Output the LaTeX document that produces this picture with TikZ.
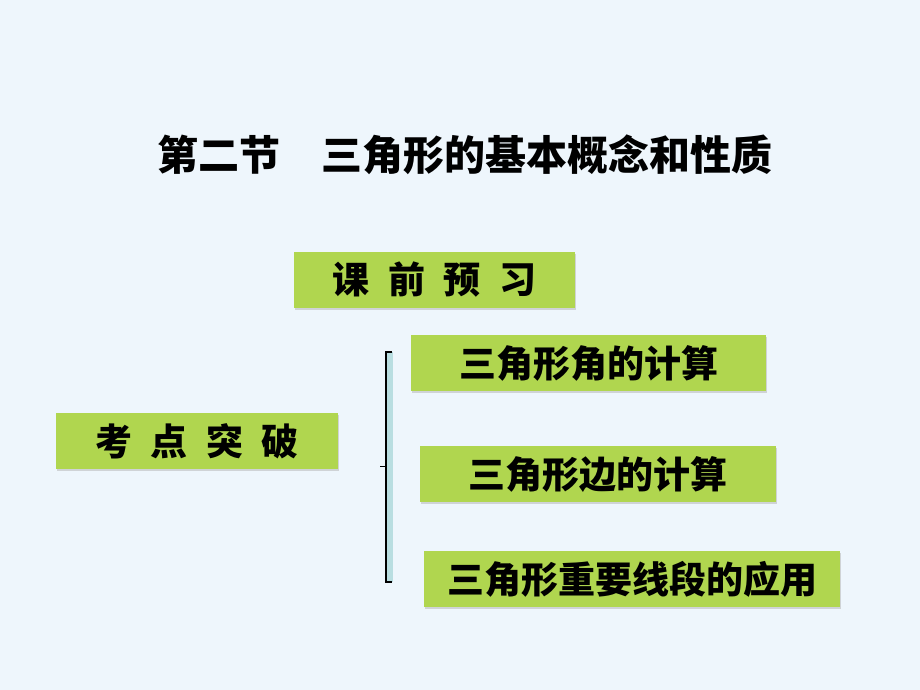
\documentclass[tikz,border=0pt]{standalone}
\usepackage{fontspec}
\usepackage{xcolor}
\usetikzlibrary{shadows}
\newfontfamily\cjk{Noto Sans CJK SC}
\definecolor{pagebg}{HTML}{EEF6FC}
\definecolor{boxgreen}{HTML}{B0D64F}
\definecolor{bracefill}{HTML}{B9DEE1}
\tikzset{
  green box/.style={
    fill=boxgreen,
    minimum width={#1},
    minimum height={56pt},
    inner sep=0pt,
    font=\cjk\bfseries\fontsize{37}{44}\selectfont,
    drop shadow={shadow xshift=1pt, shadow yshift=-1.5pt, fill=gray!60, opacity=.5},
  },
  title text/.style={
    font=\cjk\bfseries\fontsize{41}{48}\selectfont,
  }
}
\newcommand{\gap}{\hspace{0.5em}}

\begin{document}
\begin{tikzpicture}[x=1pt,y=-1pt]
        \fill [pagebg] (0,0) rectangle (920,690);
        \useasboundingbox (0,0) rectangle (920,690);

        \node [title text] (title) at (465,155) {第二节　三角形的基本概念和性质};

        \node [green box=281pt] (prep) at (434.5,280) {课\gap 前\gap 预\gap 习};
        \node [green box=282pt] (kaodian) at (197,441) {考\gap 点\gap 突\gap 破};
        \node [green box=355pt] (angle) at (588.5,363) {三角形角的计算};
        \node [green box=356pt] (side) at (598,474) {三角形边的计算};
        \node [green box=416pt] (seg) at (632,579) {三角形重要线段的应用};

        % bracket
        \coordinate (brtop) at (386,352);
        \coordinate (brbot) at (386,582);
        \coordinate (brmid) at (386,466);
        \coordinate (brtip) at (380,466);
        \fill [bracefill] (brtop) rectangle ([xshift=7pt]brbot);
        \draw [line width=1.2pt] ([xshift=6pt]brtop) -- (brtop) -- (brbot) -- ([xshift=6pt]brbot);
        \draw [line width=1pt] (brtip) -- (brmid);
    \end{tikzpicture}
\end{document}
